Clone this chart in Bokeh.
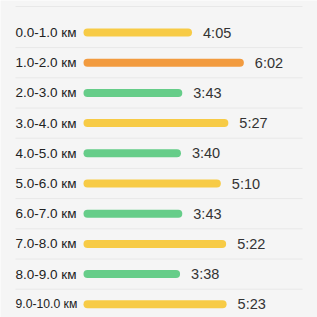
from bokeh.plotting import figure
from bokeh.models import ColumnDataSource, Range1d
from bokeh.core.properties import value
from bokeh.embed import file_html
from bokeh.resources import INLINE

segments = ["0.0-1.0 км", "1.0-2.0 км", "2.0-3.0 км", "3.0-4.0 км", "4.0-5.0 км",
            "5.0-6.0 км", "6.0-7.0 км", "7.0-8.0 км", "8.0-9.0 км", "9.0-10.0 км"]
pace_labels = ["4:05", "6:02", "3:43", "5:27", "3:40", "5:10", "3:43", "5:22", "3:38", "5:23"]
zones = ["medium", "slow", "fast", "medium", "fast", "medium", "fast", "medium", "fast", "medium"]

zone_colors = {"fast": "#66CD89", "medium": "#F7CB46", "slow": "#F29B3F"}

def to_sec(s):
    m, sec = s.split(":")
    return int(m) * 60 + int(sec)

pace_sec = [to_sec(s) for s in pace_labels]
rows = list(range(len(segments)))

# labels shrink to fit their column (longer label -> smaller font)
base_len = min(len(s) for s in segments)
label_sizes = ["%.1fpx" % (13.5 if len(s) <= base_len else 12.2) for s in segments]

W = H = 317
px_per_sec = 0.443
x0_px = 83
row_px = 30.2
top_px = 32

x_start = -x0_px / px_per_sec
x_end = (W - x0_px) / px_per_sec
y_end = -top_px / row_px
y_start = y_end + H / row_px

p = figure(width=W, height=H, output_backend="svg", toolbar_location=None,
           x_range=Range1d(x_start, x_end), y_range=Range1d(y_start, y_end),
           min_border=0, background_fill_color="#f5f5f5", border_fill_color="#f5f5f5",
           outline_line_color=None)
p.axis.visible = False
p.grid.visible = False

# separators
sep_y = [(6 - top_px) / row_px] + [r + 0.5 for r in rows[:-1]]
sep_x0 = (15 - x0_px) / px_per_sec
sep_x1 = (302 - x0_px) / px_per_sec
p.segment(x0=[sep_x0] * len(sep_y), x1=[sep_x1] * len(sep_y), y0=sep_y, y1=sep_y,
          line_color="#e8e8e8", line_width=1)

src = ColumnDataSource(dict(
    y=rows, seg=segments, sec=pace_sec, lab=pace_labels, fs=label_sizes,
    zero=[0] * len(rows), color=[zone_colors[z] for z in zones]))

p.hbar(y="y", left="zero", right="sec", height=8 / row_px, source=src,
       fill_color="color", line_color=None, border_radius=4)

p.text(x="zero", y="y", text="seg", source=src, x_offset=-68, text_baseline="middle",
       text_align="left", text_font=value("Liberation Sans"), text_font_size="fs",
       text_color="#222222")
p.text(x="sec", y="y", text="lab", source=src, x_offset=11, text_baseline="middle",
       text_align="left", text_font=value("Liberation Sans"), text_font_size="14.5px",
       text_color="#333333")

open("out.html", "w").write(file_html(p, INLINE))
